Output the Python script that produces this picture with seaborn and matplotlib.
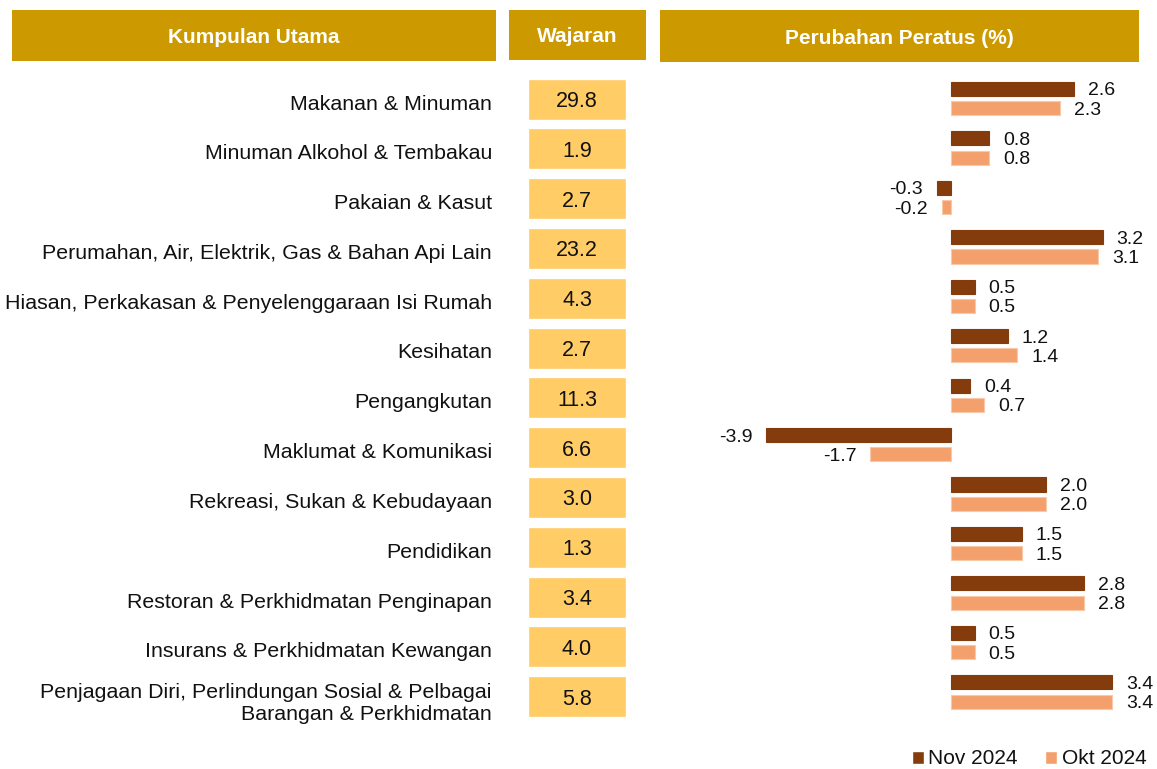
import matplotlib
matplotlib.use("Agg")
import matplotlib.pyplot as plt
from matplotlib.patches import Rectangle, Patch
from matplotlib.transforms import ScaledTranslation
import seaborn as sns
import pandas as pd

categories = [
    "Makanan & Minuman",
    "Minuman Alkohol & Tembakau",
    "Pakaian & Kasut",
    "Perumahan, Air, Elektrik, Gas & Bahan Api Lain",
    "Hiasan, Perkakasan & Penyelenggaraan Isi Rumah",
    "Kesihatan",
    "Pengangkutan",
    "Maklumat & Komunikasi",
    "Rekreasi, Sukan & Kebudayaan",
    "Pendidikan",
    "Restoran & Perkhidmatan Penginapan",
    "Insurans & Perkhidmatan Kewangan",
    "Penjagaan Diri, Perlindungan Sosial & Pelbagai\nBarangan & Perkhidmatan",
]
wajaran = [29.8, 1.9, 2.7, 23.2, 4.3, 2.7, 11.3, 6.6, 3.0, 1.3, 3.4, 4.0, 5.8]
nov_2024 = [2.6, 0.8, -0.3, 3.2, 0.5, 1.2, 0.4, -3.9, 2.0, 1.5, 2.8, 0.5, 3.4]
okt_2024 = [2.3, 0.8, -0.2, 3.1, 0.5, 1.4, 0.7, -1.7, 2.0, 1.5, 2.8, 0.5, 3.4]
series_names = ["Nov 2024", "Okt 2024"]
headers = ["Kumpulan Utama", "Wajaran", "Perubahan Peratus (%)"]

FONT = ["Liberation Sans", "DejaVu Sans"]
W, H = 1157, 769
C_NOV = "#843C0C"
C_OKT = "#F4A06C"
C_HEAD = "#CC9900"
C_BOX = "#FFCC66"

sns.set_theme(style="white")
plt.rcParams["font.family"] = FONT

fig = plt.figure(figsize=(W / 100, H / 100), dpi=100)


def rect(x0, y0, x1, y1):
    # pixel box (top-left origin) -> figure fraction [left, bottom, width, height]
    return [x0 / W, 1 - y1 / H, (x1 - x0) / W, (y1 - y0) / H]


# Header boxes
for (x0, y0, x1, y1), label in zip([(12, 10, 496, 61), (509, 10, 646, 60), (660, 10, 1139, 62)], headers):
    l, b, w, h = rect(x0, y0, x1, y1)
    fig.add_artist(Rectangle((l, b), w, h, transform=fig.transFigure,
                             facecolor=C_HEAD, edgecolor="none"))
    fig.text(l + w / 2, b + h / 2, label, ha="center", va="center_baseline",
             color="white", fontsize=15, fontweight="bold")

# Bar axes: zero at x=951, 47.4 px per unit; rows centered at 98.5 + 49.46*i
n = len(categories)
ppu = 47.4
ax_x0, ax_x1 = 660, 1139
row0, rstep = 98.5, 49.46
ax_y0 = row0 - 0.5 * rstep
ax_y1 = row0 + (n - 0.5) * rstep
ax = fig.add_axes(rect(ax_x0, ax_y0, ax_x1, ax_y1))

df = pd.DataFrame({
    "cat": categories * 2,
    "value": nov_2024 + okt_2024,
    "series": [series_names[0]] * n + [series_names[1]] * n,
})
sns.barplot(data=df, x="value", y="cat", hue="series", orient="h",
            palette=[C_NOV, C_OKT], width=0.78, gap=0.27, ax=ax,
            order=categories, hue_order=series_names, legend=False,
            saturation=1)
for cont, ec in zip(ax.containers, [C_NOV, "#F8C9A8"]):
    for p in cont:
        p.set_edgecolor(ec)
        p.set_linewidth(0.8)
    anns = ax.bar_label(cont, fmt="%.1f", padding=10, fontsize=14, color="#111111")
    for a in anns:
        a.set_va("center_baseline")

ax.set_xlim((ax_x0 - 951) / ppu, (ax_x1 - 951) / ppu)
ax.set_ylim(n - 0.5, -0.5)
ax.set_xlabel("")
ax.set_ylabel("")
ax.set_xticks([])
ax.set_yticks([])
for s in ax.spines.values():
    s.set_visible(False)
ax.patch.set_alpha(0)

# Wajaran boxes with category labels as tick labels
bstep = 49.8
b0 = 99
ax2 = fig.add_axes(rect(528, b0 - 0.5 * bstep, 626, b0 + (n - 0.5) * bstep))
ax2.barh(range(n), [1] * n, height=41 / bstep, color=C_BOX, left=0)
for i, v in enumerate(wajaran):
    ax2.text(0.5, i + 0.05, f"{v:.1f}", ha="center", va="center", fontsize=15.5, color="#111111")
ax2.set_xlim(0, 1)
ax2.set_ylim(n - 0.5, -0.5)
ax2.set_xticks([])
ax2.set_yticks(range(n))
ax2.set_yticklabels(categories)
ax2.tick_params(axis="y", length=0, pad=(528 - 492) * 0.72, labelsize=15.4,
                labelcolor="#111111")
for s in ax2.spines.values():
    s.set_visible(False)
ax2.patch.set_alpha(0)
ax2.grid(False)
shift = ScaledTranslation(0, -3 / 100, fig.dpi_scale_trans)
for lab in ax2.get_yticklabels():
    lab.set_ha("right")
    lab.set_transform(lab.get_transform() + shift)

# Legend
handles = [Patch(facecolor=C_NOV), Patch(facecolor=C_OKT)]
fig.legend(handles, series_names, loc="center right",
           bbox_to_anchor=(1165 / W, 1 - 759 / H), ncol=2, frameon=False,
           fontsize=15, handlelength=0.6, handleheight=0.6, handletextpad=0.2,
           columnspacing=1.3, labelcolor="#111111")

fig.savefig("out.png", dpi=100)
